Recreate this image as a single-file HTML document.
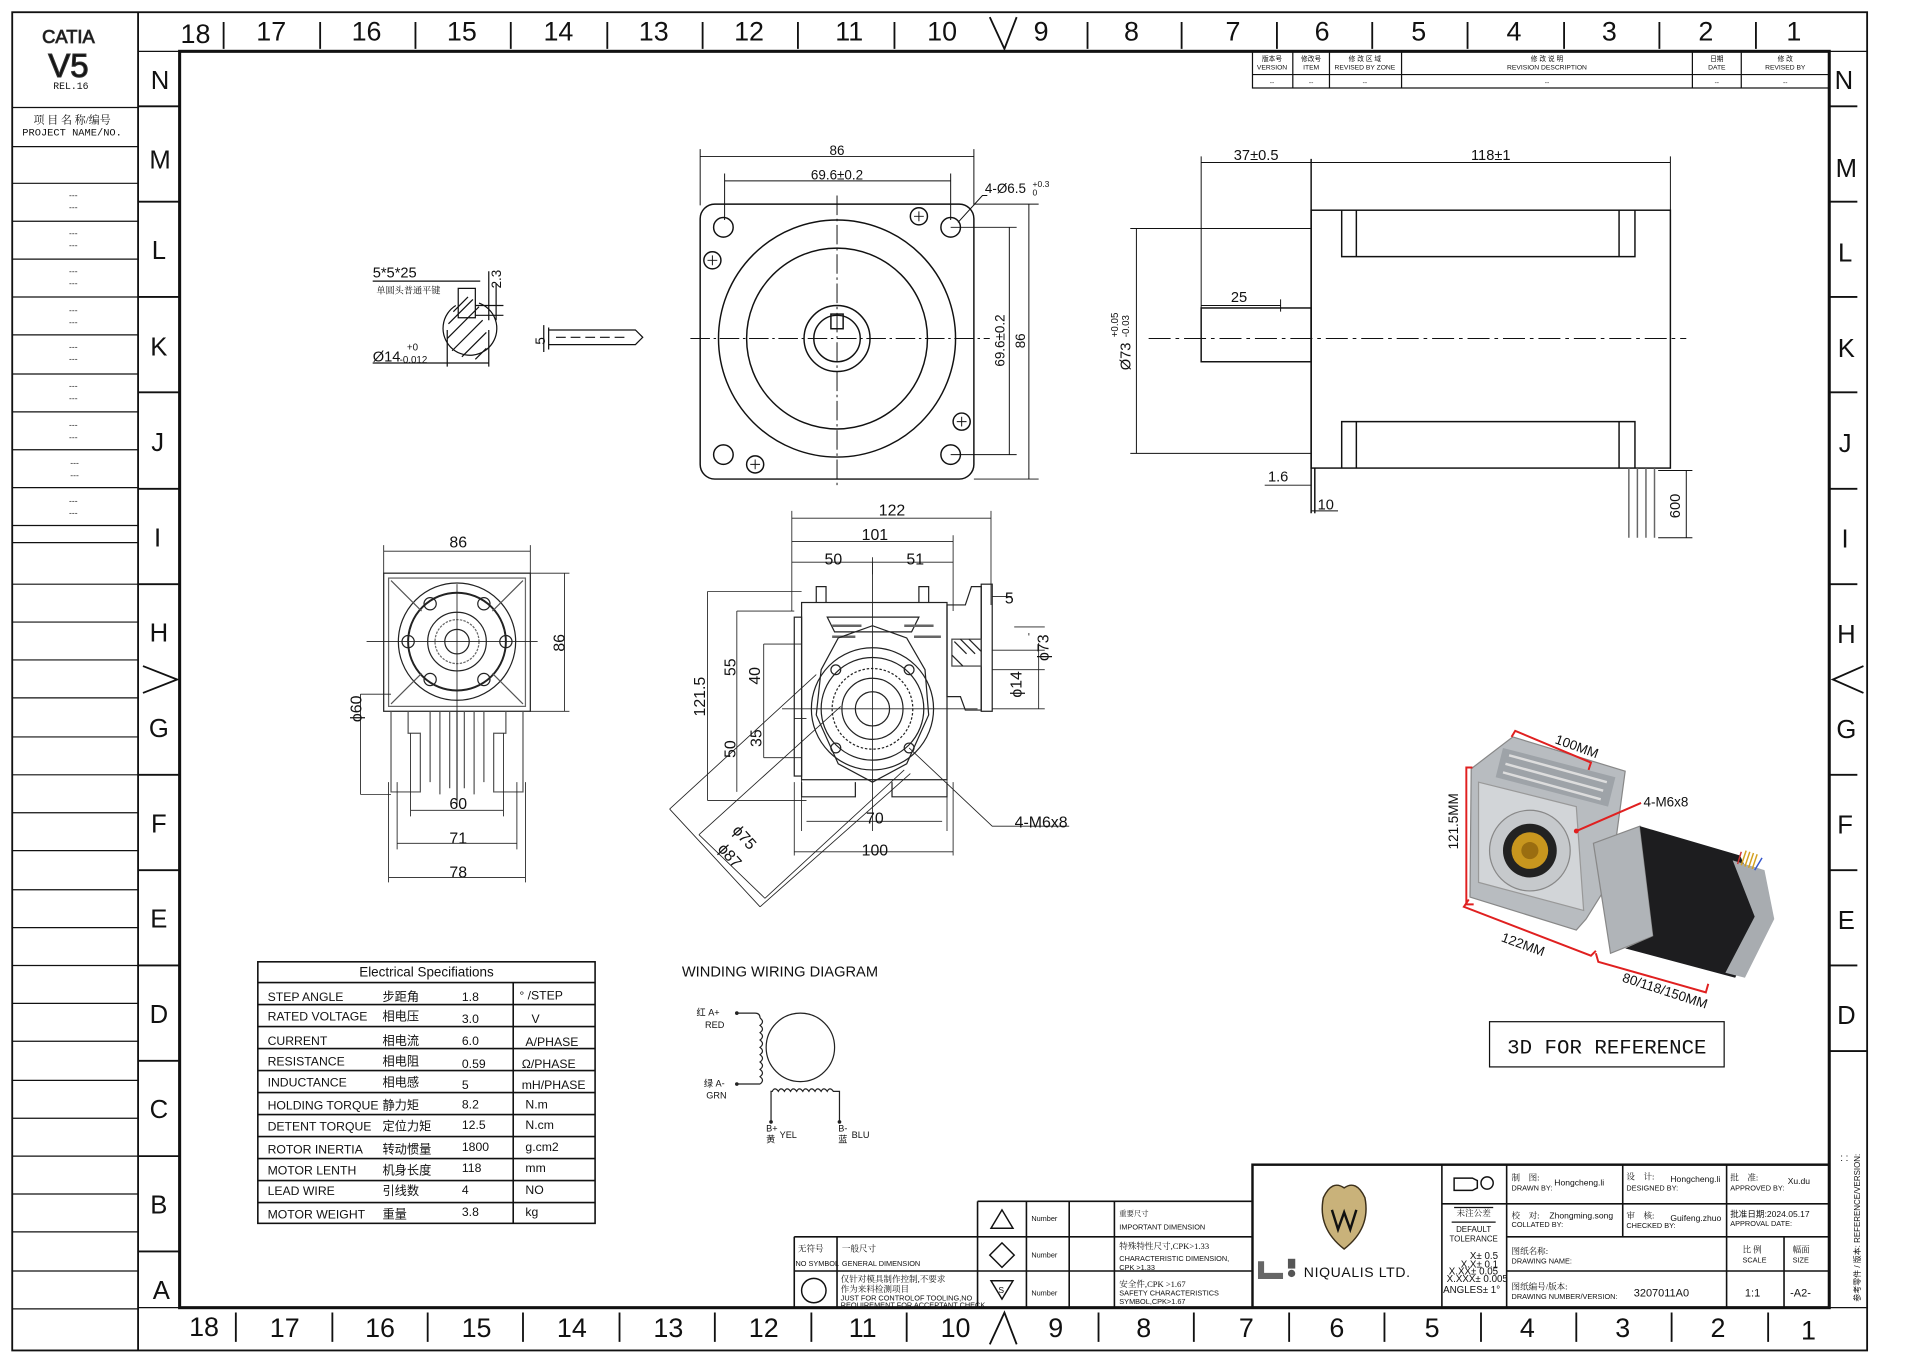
<!DOCTYPE html>
<html><head><meta charset="utf-8">
<style>
html,body{margin:0;padding:0;background:#fff;}
svg{display:block;}
text{font-family:"Liberation Sans","Noto Sans CJK SC",sans-serif;fill:#111;}
.m{font-family:"Liberation Mono","Noto Sans CJK SC",monospace;}
.s{font-family:"Liberation Serif","Noto Serif CJK SC",serif;}
</style></head><body>
<svg width="1916" height="1359" viewBox="0 0 1568 1112" preserveAspectRatio="none" xmlns="http://www.w3.org/2000/svg">
<rect width="1568" height="1112" fill="#fff"/>
<g fill="none" stroke="#111">
<rect x="10" y="10" width="1518" height="1095" stroke-width="1.5"/>
<line x1="113" y1="10" x2="113" y2="1105" stroke-width="1.5"/>
<rect x="147" y="42" width="1350" height="1028" stroke-width="2.5"/>
<line x1="113" y1="42" x2="147" y2="42"/>
<line x1="113" y1="1070" x2="147" y2="1070"/>
<line x1="1497" y1="42" x2="1528" y2="42"/>
<line x1="1497" y1="1070" x2="1528" y2="1070"/>
<g stroke-width="1">
<line x1="10" y1="88" x2="113" y2="88"/><line x1="10" y1="120" x2="113" y2="120"/>
<line x1="10" y1="150" x2="113" y2="150"/><line x1="10" y1="181" x2="113" y2="181"/>
<line x1="10" y1="212" x2="113" y2="212"/><line x1="10" y1="243" x2="113" y2="243"/>
<line x1="10" y1="274" x2="113" y2="274"/><line x1="10" y1="306" x2="113" y2="306"/>
<line x1="10" y1="337" x2="113" y2="337"/><line x1="10" y1="368" x2="113" y2="368"/>
<line x1="10" y1="399" x2="113" y2="399"/><line x1="10" y1="430" x2="113" y2="430"/>
<line x1="10" y1="444" x2="113" y2="444"/><line x1="10" y1="478" x2="113" y2="478"/>
<line x1="10" y1="509" x2="113" y2="509"/><line x1="10" y1="540" x2="113" y2="540"/>
<line x1="10" y1="571" x2="113" y2="571"/><line x1="10" y1="603" x2="113" y2="603"/>
<line x1="10" y1="634" x2="113" y2="634"/><line x1="10" y1="665" x2="113" y2="665"/>
<line x1="10" y1="696" x2="113" y2="696"/><line x1="10" y1="728" x2="113" y2="728"/>
<line x1="10" y1="759" x2="113" y2="759"/><line x1="10" y1="790" x2="113" y2="790"/>
<line x1="10" y1="821" x2="113" y2="821"/><line x1="10" y1="852" x2="113" y2="852"/>
<line x1="10" y1="884" x2="113" y2="884"/><line x1="10" y1="915" x2="113" y2="915"/>
<line x1="10" y1="946" x2="113" y2="946"/><line x1="10" y1="977" x2="113" y2="977"/>
<line x1="10" y1="1008" x2="113" y2="1008"/><line x1="10" y1="1040" x2="113" y2="1040"/>
<line x1="10" y1="1071" x2="113" y2="1071"/>
</g>
<g stroke-width="1.5">
<path d="M183 18V40M262 18V40M340 18V40M418 18V40M497 18V40M575 18V40M653 18V40M732 18V40M890 18V40M967 18V40M1045 18V40M1123 18V40M1201 18V40M1280 18V40M1358 18V40M1437 18V40"/>
<path d="M193 1074V1098M272 1074V1098M350 1074V1098M428 1074V1098M507 1074V1098M585 1074V1098M664 1074V1098M742 1074V1098M899 1074V1098M977 1074V1098M1055 1074V1098M1133 1074V1098M1212 1074V1098M1290 1074V1098M1368 1074V1098M1447 1074V1098"/>
<path d="M113 87H147M113 165H147M113 243H147M113 321H147M113 400H147M113 478H147M113 634H147M113 712H147M113 790H147M113 868H147M113 946H147M113 1024H147"/>
<path d="M1497 87H1520M1497 165H1520M1497 243H1520M1497 321H1520M1497 400H1520M1497 478H1520M1497 634H1520M1497 712H1520M1497 790H1520M1497 860H1528"/>
<path d="M810 14L822 40L832 14M810 1100L822 1074L832 1100M117 545L145 556L117 567M1525 545L1500 556L1525 567"/>
</g>
</g>
<g font-size="22" text-anchor="middle">
<text x="160" y="35">18</text><text x="222" y="33">17</text><text x="300" y="33">16</text><text x="378" y="33">15</text><text x="457" y="33">14</text><text x="535" y="33">13</text><text x="613" y="33">12</text><text x="695" y="33">11</text><text x="771" y="33">10</text><text x="852" y="33">9</text><text x="926" y="33">8</text><text x="1009" y="33">7</text><text x="1082" y="33">6</text><text x="1161" y="33">5</text><text x="1239" y="33">4</text><text x="1317" y="33">3</text><text x="1396" y="33">2</text><text x="1468" y="33">1</text>
<text x="167" y="1093">18</text><text x="233" y="1094">17</text><text x="311" y="1094">16</text><text x="390" y="1094">15</text><text x="468" y="1094">14</text><text x="547" y="1094">13</text><text x="625" y="1094">12</text><text x="706" y="1094">11</text><text x="782" y="1094">10</text><text x="864" y="1094">9</text><text x="936" y="1094">8</text><text x="1020" y="1094">7</text><text x="1094" y="1094">6</text><text x="1172" y="1094">5</text><text x="1250" y="1094">4</text><text x="1328" y="1094">3</text><text x="1406" y="1094">2</text><text x="1480" y="1096">1</text>
</g>
<g font-size="21" text-anchor="middle">
<text x="131" y="73">N</text><text x="131" y="138">M</text><text x="130" y="212">L</text><text x="130" y="291">K</text><text x="129" y="369">J</text><text x="129" y="447">I</text><text x="130" y="525">H</text><text x="130" y="603">G</text><text x="130" y="681">F</text><text x="130" y="759">E</text><text x="130" y="837">D</text><text x="130" y="915">C</text><text x="130" y="993">B</text><text x="132" y="1063">A</text>
<text x="1509" y="73">N</text><text x="1511" y="145">M</text><text x="1510" y="214">L</text><text x="1511" y="292">K</text><text x="1510" y="370">J</text><text x="1510" y="448">I</text><text x="1511" y="526">H</text><text x="1511" y="604">G</text><text x="1510" y="682">F</text><text x="1511" y="760">E</text><text x="1511" y="838">D</text>
</g>
<text x="56" y="35" font-size="15" text-anchor="middle" fill="#fff" stroke="#333" stroke-width="0.7">CATIA</text>
<text x="56" y="63" font-size="27" text-anchor="middle" fill="#fff" stroke="#333" stroke-width="0.9">V5</text>
<text x="58" y="73" font-size="8" text-anchor="middle" class="m">REL.16</text>
<text x="59" y="101" font-size="9" text-anchor="middle" class="s">项 目 名 称/编号</text>
<text x="59" y="111" font-size="8.5" text-anchor="middle" class="m">PROJECT NAME/NO.</text>
<g font-size="7" text-anchor="middle" class="m" fill="#444">
<text x="60" y="162">---</text><text x="60" y="172">---</text><text x="60" y="193">---</text><text x="60" y="203">---</text><text x="60" y="224">---</text><text x="60" y="234">---</text><text x="60" y="256">---</text><text x="60" y="266">---</text><text x="60" y="286">---</text><text x="60" y="296">---</text><text x="60" y="318">---</text><text x="60" y="328">---</text><text x="60" y="350">---</text><text x="60" y="360">---</text><text x="61" y="381">---</text><text x="61" y="391">---</text><text x="60" y="412">---</text><text x="60" y="422">---</text>
</g>
<g fill="none" stroke="#111" stroke-width="1">
<rect x="1025" y="42" width="472" height="30"/><line x1="1025" y1="61" x2="1497" y2="61"/>
<path d="M1058 42V72M1088 42V72M1147 42V72M1385 42V72M1425 42V72"/>
</g>
<g font-size="5.5" text-anchor="middle" class="m">
<text x="1041" y="50">版本号</text><text x="1041" y="57">VERSION</text>
<text x="1073" y="50">修改号</text><text x="1073" y="57">ITEM</text>
<text x="1117" y="50">修 改 区 域</text><text x="1117" y="57">REVISED BY ZONE</text>
<text x="1266" y="50">修 改 说 明</text><text x="1266" y="57">REVISION DESCRIPTION</text>
<text x="1405" y="50">日期</text><text x="1405" y="57">DATE</text>
<text x="1461" y="50">修 改</text><text x="1461" y="57">REVISED BY</text>
<text x="1041" y="69">--</text><text x="1073" y="69">--</text><text x="1117" y="69">--</text><text x="1266" y="69">--</text><text x="1405" y="69">--</text><text x="1461" y="69">--</text>
</g>

<g fill="none" stroke="#111" stroke-width="1">
<line x1="305" y1="230" x2="393" y2="230"/>
<path d="M375 236h14v24h-14z"/>
<path d="M373 250 A22 22 0 1 0 392 248"/>
<path d="M371 255l12-12M367 265l20-20M366 277l26-26M370 287l25-25M378 292l20-20M389 294l9-9"/>
<line x1="305" y1="297" x2="400" y2="297"/>
<path d="M366 270V300M400 270V300M400 222V262M406 232V262M389 250H412M389 258H412"/>
<path d="M445 266V288M449 268V286M449 270H520l6 6-6 6H449"/>
<path d="M455 276H512" stroke-dasharray="8 4"/>
</g>
<text x="305" y="227" font-size="12">5*5*25</text>
<text x="308" y="240" font-size="7.5" class="s">单圆头普通平键</text>
<text x="410" y="236" font-size="11" transform="rotate(-90 410 236)">2.3</text>
<text x="446" y="282" font-size="11" transform="rotate(-90 446 282)">5</text>
<text x="305" y="296" font-size="12">Ø14</text><text x="327" y="297" font-size="8">-0.012</text><text x="333" y="287" font-size="8">+0</text>

<g fill="none" stroke="#111" stroke-width="1.2">
<rect x="573" y="167" width="224" height="225" rx="12"/>
<circle cx="685" cy="277" r="97"/>
<circle cx="685" cy="277" r="74"/>
<circle cx="685" cy="277" r="27"/>
<circle cx="685" cy="277" r="19"/>
<rect x="680" y="257" width="10" height="12"/>
<circle cx="592" cy="186" r="8"/><circle cx="778" cy="186" r="8"/><circle cx="592" cy="372" r="8"/><circle cx="778" cy="372" r="8"/>
<circle cx="752" cy="177" r="7"/><circle cx="583" cy="213" r="7"/><circle cx="787" cy="345" r="7"/><circle cx="618" cy="380" r="7"/>
<path d="M748 177h8M752 173v8M579 213h8M583 209v8M783 345h8M787 341v8M614 380h8M618 376v8" stroke-width="0.8"/>
<path d="M565 277H810M685 160V400" stroke-width="0.8" stroke-dasharray="16 3 2 3"/>
<path d="M573 122V168M797 122V168M573 128H797M593 142V180M778 142V180M593 148H778" stroke-width="0.8"/>
<path d="M797 167H850M797 392H850M842 167V392M778 186H832M778 372H832M826 186V372" stroke-width="0.8"/>
<path d="M784 182L804 160H808" stroke-width="0.8"/>
</g>
<text x="685" y="127" font-size="11" text-anchor="middle">86</text>
<text x="685" y="147" font-size="11" text-anchor="middle">69.6±0.2</text>
<text x="806" y="158" font-size="11">4-Ø6.5</text><text x="845" y="153" font-size="7">+0.3</text><text x="845" y="160" font-size="7">0</text>
<text x="822" y="300" font-size="11" transform="rotate(-90 822 300)">69.6±0.2</text>
<text x="839" y="285" font-size="11" transform="rotate(-90 839 285)">86</text>

<g fill="none" stroke="#111" stroke-width="1.2">
<rect x="1073" y="172" width="294" height="211"/>
<path d="M1098 172V210H1110V172M1098 383V345H1110V383M1325 172V210H1338V172M1325 383V345H1338V383M1110 210H1325M1110 345H1325"/>
<rect x="983" y="252" width="90" height="44"/>
<line x1="1073" y1="130" x2="1073" y2="420"/>
<line x1="1076" y1="383" x2="1076" y2="420"/>
<path d="M940 277H1380" stroke-width="0.8" stroke-dasharray="18 4 3 4"/>
<path d="M983 128V252M983 133H1367M1367 128V172M925 187H1073M925 371H1073M930 187V371M983 250H1048M1048 245V255" stroke-width="0.8"/>
<path d="M1035 397H1073M1073 418H1095" stroke-width="0.8"/>
<path d="M1333 383V440M1340 383V440M1347 383V440M1354 383V440" stroke="#666"/>
<path d="M1357 385H1385M1357 440H1385M1380 385V440" stroke-width="0.8"/>
</g>
<text x="1028" y="131" font-size="12" text-anchor="middle">37±0.5</text>
<text x="1220" y="131" font-size="12" text-anchor="middle">118±1</text>
<text x="1014" y="247" font-size="12" text-anchor="middle">25</text>
<text x="1046" y="394" font-size="12" text-anchor="middle">1.6</text>
<text x="1085" y="417" font-size="12" text-anchor="middle">10</text>
<text x="925" y="303" font-size="12" transform="rotate(-90 925 303)">Ø73</text>
<text x="915" y="276" font-size="8" transform="rotate(-90 915 276)">+0.05</text>
<text x="924" y="276" font-size="8" transform="rotate(-90 924 276)">-0.03</text>
<text x="1375" y="424" font-size="12" transform="rotate(-90 1375 424)">600</text>

<g fill="none" stroke="#222" stroke-width="1">
<rect x="314" y="469" width="120" height="113"/>
<rect x="318" y="473" width="112" height="105" stroke="#666"/>
<circle cx="374" cy="525" r="48"/><circle cx="374" cy="525" r="40" stroke-width="1.6"/>
<circle cx="374" cy="525" r="24"/><circle cx="374" cy="525" r="18" stroke="#666" stroke-dasharray="2 1"/><circle cx="374" cy="525" r="10"/>
<circle cx="352" cy="494" r="5"/><circle cx="396" cy="494" r="5"/><circle cx="334" cy="525" r="5"/><circle cx="414" cy="525" r="5"/><circle cx="352" cy="556" r="5"/><circle cx="396" cy="556" r="5"/>
<path d="M320 475L345 500M428 475L403 500M320 576L345 551M428 576L403 551" stroke="#555"/>
<path d="M320 582V648H344V600H334V582M428 582V648H404V600H414V582M352 582V640M360 582V650M368 582V645M374 582V655M380 582V645M388 582V650M396 582V640" stroke="#555"/>
<path d="M300 525H440M374 478V660" stroke-width="0.7"/>
<path d="M314 446V469M434 446V469M314 451H434M434 469H466M434 582H466M462 469V582M295 568V650M295 568H320M295 650H320" stroke-width="0.7"/>
<path d="M336 600V668M412 600V668M336 663H412M325 640V695M423 640V695M325 690H423M318 640V722M430 640V722M318 718H430" stroke-width="0.7"/>
</g>
<g class="s" font-size="13" text-anchor="middle">
<text x="375" y="448">86</text><text x="375" y="662">60</text><text x="375" y="690">71</text><text x="375" y="718">78</text>
<text x="462" y="526" transform="rotate(-90 462 526)">86</text>
<text x="296" y="580" transform="rotate(-90 296 580)">ϕ60</text>
</g>

<g fill="none" stroke="#222" stroke-width="1">
<rect x="656" y="493" width="119" height="145"/>
<rect x="650" y="505" width="6" height="130"/>
<path d="M668 493V480H676V493M752 493V480H760V493M677 505H752l-6 12H683z"/>
<path d="M775 495H790L795 480H803V581H790L786 570H775z"/>
<rect x="803" y="478" width="9" height="104"/>
<rect x="779" y="523" width="24" height="22" stroke="#444"/>
<path d="M781 525l10 10M786 523l12 12M793 523l10 10M779 536l9 9"/>
<path d="M681 512H705M681 521H700M740 512H764M748 521H770" stroke-width="2" stroke="#666"/>
<path d="M672 548L686 522L714 512L742 522L757 548L760 585L742 625L714 640L686 625L668 585z"/>
<circle cx="714" cy="580" r="50"/><circle cx="714" cy="580" r="42"/>
<circle cx="714" cy="580" r="33" stroke-dasharray="2 1.5"/><circle cx="714" cy="580" r="25"/><circle cx="714" cy="580" r="14"/>
<circle cx="684" cy="548" r="4"/><circle cx="744" cy="548" r="4"/><circle cx="684" cy="612" r="4"/><circle cx="744" cy="612" r="4"/>
<path d="M656 640V652H700V640M730 640V652H775V640"/>
<path d="M640 580H800M714 460V680" stroke-width="0.7"/>
<path d="M648 418V500M811 418V495M648 424H811M780 438V500M648 443H780M648 460H780M714 456V470" stroke-width="0.7"/>
<path d="M579 484H656M579 484V655M579 655H660M603 500H650M603 500V648M625 527H656M625 527V620M625 620H656M650 588H660" stroke-width="0.7"/>
<path d="M812 488H828M812 532H855M812 548H855M830 513H855M812 580H855M850 526V580M842 518V520" stroke-width="0.7"/>
<path d="M656 620V680M775 620V680M660 672H771M650 640V700M780 640V700M650 697H780" stroke-width="0.7"/>
<path d="M548 662L668 552M572 683L688 578M548 662L622 742M572 683L626 735M622 742L745 633M626 735L740 630" stroke-width="0.7"/>
<path d="M744 612L812 676H875" stroke-width="0.7"/>
</g>
<g class="s" font-size="13" text-anchor="middle">
<text x="730" y="422">122</text><text x="716" y="442">101</text><text x="682" y="462">50</text><text x="749" y="462">51</text>
<text x="826" y="494">5</text><text x="716" y="674">70</text><text x="716" y="700">100</text>
<text x="852" y="677">4-M6x8</text>
<text x="577" y="570" transform="rotate(-90 577 570)">121.5</text>
<text x="602" y="546" transform="rotate(-90 602 546)">55</text>
<text x="622" y="553" transform="rotate(-90 622 553)">40</text>
<text x="602" y="613" transform="rotate(-90 602 613)">50</text>
<text x="623" y="604" transform="rotate(-90 623 604)">35</text>
<text x="858" y="530" transform="rotate(-90 858 530)">ϕ73</text>
<text x="836" y="560" transform="rotate(-90 836 560)">ϕ14</text>
<text x="606" y="688" transform="rotate(48 606 688)">ϕ75</text>
<text x="594" y="703" transform="rotate(48 594 703)">ϕ87</text>
</g>

<g fill="none" stroke="#111" stroke-width="1.3">
<rect x="211" y="787" width="276" height="214"/>
<line x1="211" y1="804" x2="487" y2="804"/>
<path d="M211 822H487M211 840H487M211 858H487M211 876H487M211 894H487M211 912H487M211 930H487M211 948H487M211 966H487M211 984H487"/>
<line x1="420" y1="804" x2="420" y2="1001"/>
</g>
<g class="m" font-size="10">
<text x="349" y="799" text-anchor="middle" font-size="11">Electrical Specifiations</text>
<text x="219" y="819">STEP ANGLE</text><text x="313" y="819">步距角</text><text x="378" y="819">1.8</text><text x="425" y="818">° /STEP</text>
<text x="219" y="835">RATED VOLTAGE</text><text x="313" y="835">相电压</text><text x="378" y="837">3.0</text><text x="435" y="837">V</text>
<text x="219" y="855">CURRENT</text><text x="313" y="855">相电流</text><text x="378" y="855">6.0</text><text x="430" y="856">A/PHASE</text>
<text x="219" y="872">RESISTANCE</text><text x="313" y="872">相电阻</text><text x="378" y="874">0.59</text><text x="427" y="874">Ω/PHASE</text>
<text x="219" y="889">INDUCTANCE</text><text x="313" y="889">相电感</text><text x="378" y="891">5</text><text x="427" y="891">mH/PHASE</text>
<text x="219" y="908">HOLDING TORQUE</text><text x="313" y="908">静力矩</text><text x="378" y="907">8.2</text><text x="430" y="907">N.m</text>
<text x="219" y="925">DETENT TORQUE</text><text x="313" y="925">定位力矩</text><text x="378" y="924">12.5</text><text x="430" y="924">N.cm</text>
<text x="219" y="944">ROTOR INERTIA</text><text x="313" y="944">转动惯量</text><text x="378" y="942">1800</text><text x="430" y="942">g.cm2</text>
<text x="219" y="961">MOTOR LENTH</text><text x="313" y="961">机身长度</text><text x="378" y="959">118</text><text x="430" y="959">mm</text>
<text x="219" y="978">LEAD WIRE</text><text x="313" y="978">引线数</text><text x="378" y="977">4</text><text x="430" y="977">NO</text>
<text x="219" y="997">MOTOR WEIGHT</text><text x="313" y="997">重量</text><text x="378" y="995">3.8</text><text x="430" y="995">kg</text>
</g>

<text x="558" y="799" font-size="12">WINDING WIRING DIAGRAM</text>
<g fill="none" stroke="#222" stroke-width="1">
<circle cx="655" cy="857" r="28"/>
<path d="M603 829H618Q622 829 622 833 M622 833q4 3 0 6q4 3 0 6q4 3 0 6q4 3 0 6q4 3 0 6q4 3 0 6q4 3 0 6q4 3 0 6q4 3 0 6 M622 887H603"/>
<path d="M631 918V893H632q2-4 5 0q2-4 5 0q2-4 5 0q2-4 5 0q2-4 5 0q2-4 5 0q2-4 5 0q2-4 5 0q2-4 5 0q2-4 5 0H687V918"/>
</g>
<g fill="#222"><circle cx="603" cy="829" r="1.5"/><circle cx="603" cy="887" r="1.5"/><circle cx="631" cy="918" r="1.5"/><circle cx="687" cy="918" r="1.5"/></g>
<g font-size="7.5">
<text x="570" y="831">红 A+</text><text x="577" y="841">RED</text>
<text x="576" y="889">绿 A-</text><text x="578" y="899">GRN</text>
<text x="627" y="926">B+</text><text x="627" y="935">黄</text><text x="638" y="931">YEL</text>
<text x="686" y="926">B-</text><text x="686" y="935">蓝</text><text x="697" y="931">BLU</text>
</g>

<polygon points="1204,629 1238,603 1330,631 1318,720 1298,752 1290,761 1203,734" fill="#b8bcc0" stroke="#888"/>
<polygon points="1230,612 1322,636 1316,660 1224,636" fill="#9ea3a8"/>
<path d="M1235 618L1315 640M1232 625L1312 647M1230 632L1310 654" stroke="#ddd" stroke-width="2"/>
<polygon points="1210,640 1290,660 1296,745 1210,722" fill="#d2d5d8" stroke="#999"/>
<circle cx="1252" cy="696" r="33" fill="#c6c9cc" stroke="#888"/>
<circle cx="1252" cy="696" r="22" fill="#222"/>
<circle cx="1252" cy="696" r="15" fill="#c8961e"/>
<circle cx="1252" cy="696" r="7" fill="#9a6d10"/>
<polygon points="1304,690 1342,676 1353,766 1318,780" fill="#b0b4b8" stroke="#888"/>
<polygon points="1342,676 1424,700 1446,748 1420,800 1330,776 1353,766" fill="#1d1d1f"/>
<polygon points="1418,704 1444,712 1452,752 1428,800 1412,796 1436,750" fill="#a8acb0"/>
<path d="M1425 708l4-12M1428 709l4-12M1431 710l4-12M1434 711l4-12" stroke="#d4a020" stroke-width="1.2"/>
<path d="M1436 712l6-10" stroke="#3355cc" stroke-width="1.2"/><path d="M1422 707l3-10" stroke="#cc3333" stroke-width="1.2"/>
<g stroke="#e02020" stroke-width="1.6" fill="none">
<path d="M1237 603L1240 598L1302 624L1300 630"/>
<path d="M1205 628H1200V740H1206"/>
<path d="M1202 736L1198 742L1302 782L1306 778"/>
<path d="M1306 780L1308 787L1396 812L1398 805"/>
<path d="M1290 680L1343 657"/>
</g>
<circle cx="1290" cy="680" r="2" fill="#e02020"/>
<g fill="#e02020" font-size="11">
<text x="1272" y="608" transform="rotate(20 1272 608)">100MM</text>
<text x="1193" y="695" transform="rotate(-90 1193 695)">121.5MM</text>
<text x="1228" y="770" transform="rotate(20 1228 770)">122MM</text>
<text x="1327" y="803" transform="rotate(18 1327 803)">80/118/150MM</text>
<text x="1345" y="660">4-M6x8</text>
</g>
<rect x="1219" y="836" width="192" height="37" fill="none" stroke="#111"/>
<text x="1315" y="862" font-size="17" text-anchor="middle" class="m">3D FOR REFERENCE</text>

<g fill="none" stroke="#111" stroke-width="1.3">
<rect x="1025" y="953" width="472" height="117" stroke-width="2"/>
<path d="M1180 953V1070M1233 953V1070M1328 953V1012M1413 953V1070M1460 1040V1070M1460 1012V1040M1180 985H1497M1233 1012H1497M1233 1040H1497"/>
<path d="M800 983H1025M650 1012H1025M650 1040H1025M650 1012V1070M685 1012V1070M800 983V1070M840 983V1070M875 983V1070M912 983V1070"/>
<path d="M1190 988H1222" stroke-width="1"/><path d="M1188 1000H1224" stroke-width="1"/>
</g>
<path d="M1083 980Q1090 965 1100 972Q1110 965 1117 980Q1122 1005 1100 1022Q1078 1005 1083 980z" fill="#c9b27a" stroke="#3b2f1a" stroke-width="1.2"/>
<path d="M1090 990L1095 1006L1100 992L1105 1006L1110 990" fill="none" stroke="#111" stroke-width="2"/>
<path d="M1032 1032V1044H1050" fill="none" stroke="#666" stroke-width="5"/>
<circle cx="1057" cy="1042" r="3" fill="#555"/><rect x="1054" y="1030" width="6" height="8" fill="#555"/>
<text x="1067" y="1045" font-size="11.5" fill="#3a5a3a" letter-spacing="0.5">NIQUALIS LTD.</text>
<g fill="none" stroke="#111" stroke-width="1.2">
<path d="M1190 964h15l4 2v6l-4 2h-15z"/><circle cx="1217" cy="968" r="5"/>
<path d="M820 990l-9 15h18z"/><path d="M820 1017l-10 10 10 10 10-10z"/><path d="M811 1048h18l-9 15z"/><circle cx="666" cy="1056" r="10"/>
</g>
<text x="817" y="1058" font-size="7">S</text>
<g class="m" font-size="6">
<text x="844" y="999">Number</text><text x="844" y="1029">Number</text><text x="844" y="1060">Number</text>
<text x="916" y="995" class="s">重要尺寸</text><text x="916" y="1006">IMPORTANT DIMENSION</text>
<text x="916" y="1022" class="s" font-size="7">特殊特性尺寸,CPK&gt;1.33</text><text x="916" y="1032">CHARACTERISTIC DIMENSION,</text><text x="916" y="1039">CPK &gt;1.33</text>
<text x="916" y="1053" class="s" font-size="7">安全件,CPK &gt;1.67</text><text x="916" y="1060">SAFETY CHARACTERISTICS</text><text x="916" y="1067">SYMBOL,CPK&gt;1.67</text>
<text x="653" y="1024" class="s" font-size="7">无符号</text><text x="651" y="1036">NO SYMBOL</text>
<text x="689" y="1024" class="s" font-size="7">一般尺寸</text><text x="689" y="1036">GENERAL DIMENSION</text>
<text x="688" y="1049" class="s" font-size="7">仅针对模具制作控制,不要求</text><text x="688" y="1057" class="s" font-size="7">作为来料检测项目</text><text x="688" y="1064">JUST FOR CONTROLOF TOOLING,NO</text><text x="688" y="1070">REQUIREMENT FOR ACCEPTANT CHECK</text>
<text x="1206" y="995" text-anchor="middle" class="s" font-size="7">未注公差</text>
<text x="1206" y="1008" text-anchor="middle" font-size="6.5">DEFAULT</text><text x="1206" y="1016" text-anchor="middle" font-size="6.5">TOLERANCE</text>
<text x="1226" y="1030" text-anchor="end" font-size="8">X± 0.5</text><text x="1226" y="1037" text-anchor="end" font-size="8">X.X± 0.1</text><text x="1226" y="1043" text-anchor="end" font-size="8">X.XX± 0.05</text><text x="1234" y="1049" text-anchor="end" font-size="8">X.XXX± 0.005</text><text x="1181" y="1058" font-size="8">ANGLES± 1°</text>
<text x="1237" y="966" class="s" font-size="7">制　图:</text><text x="1272" y="970" font-size="7">Hongcheng.li</text><text x="1237" y="974">DRAWN BY:</text>
<text x="1331" y="965" class="s" font-size="7">设　计:</text><text x="1367" y="967" font-size="7">Hongcheng.li</text><text x="1331" y="974">DESIGNED BY:</text>
<text x="1416" y="966" class="s" font-size="7">批　准:</text><text x="1463" y="969" font-size="7">Xu.du</text><text x="1416" y="974">APPROVED BY:</text>
<text x="1237" y="997" class="s" font-size="7">校　对:</text><text x="1268" y="997" font-size="7">Zhongming.song</text><text x="1237" y="1004">COLLATED BY:</text>
<text x="1331" y="997" class="s" font-size="7">审　核:</text><text x="1367" y="999" font-size="7">Guifeng.zhuo</text><text x="1331" y="1005">CHECKED BY:</text>
<text x="1416" y="996" font-size="7">批准日期:2024.05.17</text><text x="1416" y="1003">APPROVAL DATE:</text>
<text x="1237" y="1026" class="s" font-size="7">图纸名称:</text><text x="1237" y="1034">DRAWING NAME:</text>
<text x="1426" y="1025" class="s" font-size="7">比 例</text><text x="1426" y="1033">SCALE</text>
<text x="1467" y="1025" class="s" font-size="7">幅面</text><text x="1467" y="1033">SIZE</text>
<text x="1237" y="1055" class="s" font-size="7">图纸编号/版本:</text><text x="1237" y="1063">DRAWING NUMBER/VERSION:</text>
<text x="1337" y="1061" font-size="9">3207011A0</text><text x="1428" y="1061" font-size="9">1:1</text><text x="1465" y="1061" font-size="9">-A2-</text>
<text x="1522" y="1065" transform="rotate(-90 1522 1065)" font-size="6.5">参考零件 / 版本: REFERENCE/VERSION:</text>
<text x="1506" y="950" font-size="8">: :</text>
</g>
</svg>
</body></html>
